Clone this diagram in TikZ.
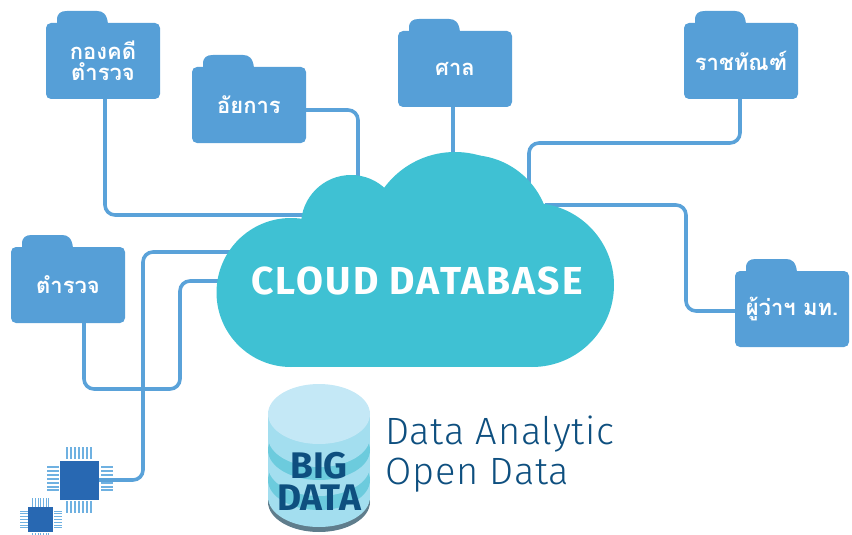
\documentclass[tikz,border=0pt]{standalone}
\usepackage{fontspec}
\setmainfont{Fira Sans}
\newfontfamily\thaifont[Script=Thai]{Loma}
\newfontfamily\cloudfont[LetterSpace=5.5]{Fira Sans}
\newfontfamily\lightfont[LetterSpace=2]{Fira Sans Light}
\definecolor{folderblue}{HTML}{569FD7}
\definecolor{linkblue}{HTML}{5AA2D9}
\definecolor{cloudteal}{HTML}{3FC1D3}
\definecolor{chipblue}{HTML}{2868B2}
\definecolor{pinblue}{HTML}{6FB1E1}
\definecolor{dbtop}{HTML}{C4E8F6}
\definecolor{dbmid}{HTML}{A3DEEF}
\definecolor{dbteal}{HTML}{6CCBDD}
\definecolor{dbgray}{HTML}{5F7D8C}
\definecolor{navytext}{HTML}{0E4F7F}
\tikzset{
  folder/.style={fill=folderblue,rounded corners=5pt,minimum width=114pt,minimum height=76pt,inner sep=0pt,
    text=white,align=center,font=\thaifont\bfseries\fontsize{22}{23}\selectfont},
  foldertab/.style={fill=folderblue},
  link/.style={draw=linkblue,line width=3.6pt,rounded corners=10pt},
  lobe/.style={fill=cloudteal},
  dbdisk/.style={x radius=51,y radius=30},
  pinset/.style={draw=pinblue,line width=2pt},
  smallpinset/.style={draw=pinblue,line width=1pt},
}
\newcommand{\foldertabat}[2]{\fill[foldertab] (#1,#2+13) -- (#1,#2+9) .. controls (#1,#2+2) and (#1+4,#2) .. (#1+10,#2) -- (#1+40,#2) .. controls (#1+46,#2) and (#1+50,#2+3) .. (#1+51,#2+13) -- cycle;}
\begin{document}
\begin{tikzpicture}[x=1pt,y=-1pt]
\useasboundingbox (0,0) rectangle (852,535);
% folders
\foldertabat{57}{11}
\node[folder] (kong) at (103,61) {กองคดี\\[-2pt]ตำรวจ};
\foldertabat{203}{55}
\node[folder] (ayakan) at (249,105) {อัยการ};
\foldertabat{409}{19}
\node[folder] (san) at (455,69) {ศาล};
\foldertabat{695}{11}
\node[folder] (ratcha) at (741,61) {ราชทัณฑ์};
\foldertabat{746}{259}
\node[folder] (phuwa) at (792,309) {ผู้ว่าฯ มท.};
\foldertabat{22}{235}
\node[folder] (tamruat) at (68,285) {ตำรวจ};
% chips
\foreach \i in {0,...,6}{
  \draw[pinset] (66.5+4*\i*1,447) -- (66.5+4*\i*1,459);
  \draw[pinset] (66.5+4*\i*1,501) -- (66.5+4*\i*1,513);
  \draw[pinset] (47,467+3.9*\i*1) -- (59,467+3.9*\i*1);
  \draw[pinset] (101,467+3.9*\i*1) -- (113,467+3.9*\i*1);
  \draw[smallpinset] (32.7+2.7*\i*1,498) -- (32.7+2.7*\i*1,507);
  \draw[smallpinset] (32.7+2.7*\i*1,533) -- (32.7+2.7*\i*1,535);
  \draw[smallpinset] (20,511+2.8*\i*1) -- (28,511+2.8*\i*1);
  \draw[smallpinset] (54,511+2.8*\i*1) -- (62,511+2.8*\i*1);
}
\node[fill=chipblue,minimum size=39pt,inner sep=0pt] (chipa) at (79.5,480) {};
\node[fill=chipblue,minimum size=25pt,inner sep=0pt] (chipb) at (40.5,519.5) {};
% cloud anchor points
\coordinate (c1) at (310,215);
\coordinate (c2) at (358,190);
\coordinate (c3) at (453,160);
\coordinate (c4) at (529,190);
\coordinate (c5) at (545,205);
\coordinate (c6) at (225,281);
\coordinate (c7) at (235,252);
% connectors
\draw[link] ([xshift=2pt]kong.south) |- (c1);
\draw[link] ([yshift=-5pt]ayakan.east) -| (c2);
\draw[link] ([xshift=-2pt]san.south) -- (c3);
\draw[link] ([xshift=-1pt]ratcha.south) |- (529,143) -- (c4);
\draw[link] ([yshift=-2pt]phuwa.west) -| (686,205) -- (c5);
\draw[link] ([xshift=16pt]tamruat.south) |- (180,389) |- (c6);
\draw[link] (chipa.east) -| (143,252) -- (c7);
% cloud
\fill[lobe] (291,292.5) circle[radius=74.5];
\fill[lobe] (351,225) circle[radius=50];
\fill[lobe] (455,240) circle[radius=88];
\fill[lobe] (470,235) circle[radius=80];
\fill[lobe] (532,285) circle[radius=82];
\fill[lobe] (291,250) rectangle (532,367);
\node[text=white,font=\cloudfont\bfseries\fontsize{39}{39}\selectfont] (title) at (417,281) {CLOUD DATABASE};
% database
\fill[dbgray] (268,414) rectangle (370,502);
\fill[dbgray] (319,502) ellipse[dbdisk];
\fill[dbmid] (268,414) rectangle (370,497);
\fill[dbmid] (319,497) ellipse[dbdisk];
\fill[dbteal] (319,480) ellipse[dbdisk];
\fill[dbmid] (319,466) ellipse[dbdisk];
\fill[dbteal] (319,450) ellipse[dbdisk];
\fill[dbmid] (319,437) ellipse[dbdisk];
\fill[dbtop] (319,414) ellipse[dbdisk];
\node[text=navytext,align=center,font=\bfseries\fontsize{37}{32}\selectfont] (big) at (319,481) {BIG\\DATA};
\node[text=navytext,align=left,anchor=west,inner sep=0pt,font=\lightfont\fontsize{38}{40}\selectfont] (analytic) at (385,454) {Data Analytic\\Open Data};
\end{tikzpicture}
\end{document}
